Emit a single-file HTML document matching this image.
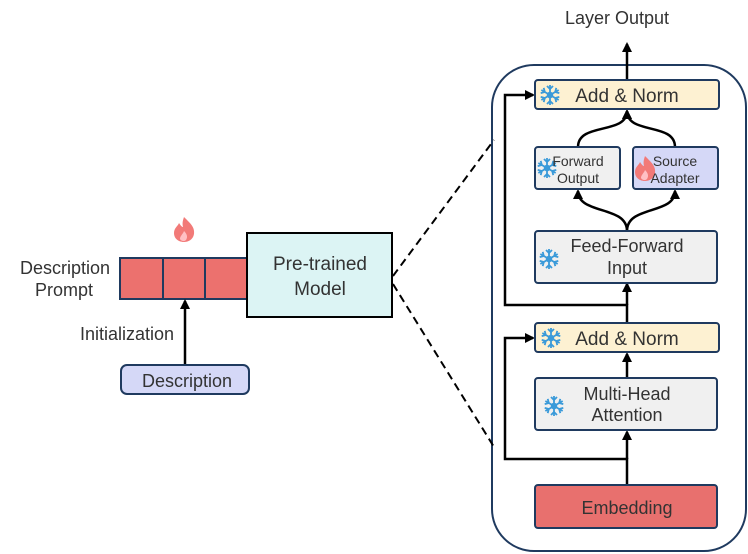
<!DOCTYPE html>
<html><head><meta charset="utf-8"><style>
html,body{margin:0;padding:0;background:#fff;}
svg{display:block;}
text{font-family:"Liberation Sans",sans-serif;fill:#333;}
</style></head><body>
<svg width="748" height="554" viewBox="0 0 748 554" xmlns="http://www.w3.org/2000/svg">
<defs>
<marker id="ah" markerWidth="10" markerHeight="10" refX="8" refY="5" orient="auto" markerUnits="userSpaceOnUse">
<path d="M0,0 L10,5 L0,10 z" fill="#000"/></marker>
<g id="br" stroke="#3a9ad9" stroke-width="1.8" fill="none"><line x1="0" y1="-10" x2="0" y2="10"/><polyline points="-3,-9 0,-6 3,-9"/><polyline points="-3,9 0,6 3,9"/></g>
<g id="snow">
<use href="#br"/><use href="#br" transform="rotate(60)"/><use href="#br" transform="rotate(-60)"/>
<circle r="2.5" fill="none" stroke="#3a9ad9" stroke-width="1.6"/>
</g>
<g id="fire"><path d="M0,-12 C6,-6 11,-2 10,5 C9,11 4,13 0,13 C-5,13 -10,10 -10,4 C-10,-1 -6,-3 -5,-6 C-3,-3 -2,-2 -1,-2 C-2,-6 -1,-9 0,-12z" fill="#f27a78"/><path d="M0,2 C3,5 4,8 2,11 C0,13 -3,12 -4,10 C-4,7 -1,5 0,2z" fill="#ffc0c4"/></g>
</defs>

<rect x="492" y="65" width="254" height="486" rx="42" fill="#fff" stroke="#1f3a5f" stroke-width="2"/>

<text x="617" y="24" font-size="18" text-anchor="middle">Layer Output</text>
<line x1="627" y1="80" x2="627" y2="44" stroke="#000" stroke-width="2.5" marker-end="url(#ah)"/>

<polyline points="627,485 627,459 505,459 505,338 533,338" fill="none" stroke="#000" stroke-width="2.5" marker-end="url(#ah)"/>
<line x1="627" y1="459" x2="627" y2="432" stroke="#000" stroke-width="2.5" marker-end="url(#ah)"/>
<line x1="627" y1="378" x2="627" y2="354" stroke="#000" stroke-width="2.5" marker-end="url(#ah)"/>
<polyline points="627,323 627,305 505,305 505,95 533,95" fill="none" stroke="#000" stroke-width="2.5" marker-end="url(#ah)"/>
<line x1="627" y1="305" x2="627" y2="284" stroke="#000" stroke-width="2.5" marker-end="url(#ah)"/>
<path d="M627,231 C627,205 578,215 578,191" fill="none" stroke="#000" stroke-width="2.5" marker-end="url(#ah)"/>
<path d="M627,231 C627,205 675,215 675,191" fill="none" stroke="#000" stroke-width="2.5" marker-end="url(#ah)"/>
<path d="M578,147 C578,122 627,135 627,111" fill="none" stroke="#000" stroke-width="2.5" marker-end="url(#ah)"/>
<path d="M675,147 C675,122 627,135 627,111" fill="none" stroke="#000" stroke-width="2.5" marker-end="url(#ah)"/>

<rect x="535" y="80" width="184" height="29" rx="3" fill="#fdf1d2" stroke="#1f3a5f" stroke-width="2"/>
<use href="#snow" x="550" y="95"/>
<text x="627" y="102" font-size="19" text-anchor="middle">Add &amp; Norm</text>

<rect x="535" y="147" width="85" height="42" rx="3" fill="#f0f0f0" stroke="#1f3a5f" stroke-width="2"/>
<use href="#snow" x="547" y="168"/>
<text x="578" y="166" font-size="14" text-anchor="middle">Forward</text>
<text x="578" y="183" font-size="14" text-anchor="middle">Output</text>

<rect x="633" y="147" width="85" height="42" rx="3" fill="#d5d8f7" stroke="#1f3a5f" stroke-width="2"/>
<use href="#fire" x="645" y="168"/>
<text x="675" y="166" font-size="14" text-anchor="middle">Source</text>
<text x="675" y="183" font-size="14" text-anchor="middle">Adapter</text>

<rect x="535" y="231" width="182" height="52" rx="3" fill="#f0f0f0" stroke="#1f3a5f" stroke-width="2"/>
<use href="#snow" x="549" y="259"/>
<text x="627" y="252" font-size="18" text-anchor="middle">Feed-Forward</text>
<text x="627" y="274" font-size="18" text-anchor="middle">Input</text>

<rect x="535" y="323" width="184" height="29" rx="3" fill="#fdf1d2" stroke="#1f3a5f" stroke-width="2"/>
<use href="#snow" x="551" y="338"/>
<text x="627" y="345" font-size="19" text-anchor="middle">Add &amp; Norm</text>

<rect x="535" y="378" width="182" height="52" rx="3" fill="#f0f0f0" stroke="#1f3a5f" stroke-width="2"/>
<use href="#snow" x="554" y="406"/>
<text x="627" y="400" font-size="18" text-anchor="middle">Multi-Head</text>
<text x="627" y="421" font-size="18" text-anchor="middle">Attention</text>

<rect x="535" y="485" width="182" height="43" rx="3" fill="#e8706e" stroke="#1f3a5f" stroke-width="2"/>
<text x="627" y="514" font-size="18" text-anchor="middle">Embedding</text>

<line x1="393" y1="276" x2="494" y2="140" stroke="#000" stroke-width="2" stroke-dasharray="8,5"/>
<line x1="393" y1="284" x2="494" y2="447" stroke="#000" stroke-width="2" stroke-dasharray="8,5"/>

<text x="65" y="274" font-size="18" text-anchor="middle">Description</text>
<text x="64" y="296" font-size="18" text-anchor="middle">Prompt</text>
<rect x="120" y="258" width="128" height="41" fill="#ec716e" stroke="#1f3a5f" stroke-width="2"/>
<line x1="163" y1="258" x2="163" y2="299" stroke="#1f3a5f" stroke-width="2"/>
<line x1="205" y1="258" x2="205" y2="299" stroke="#1f3a5f" stroke-width="2"/>
<use href="#fire" x="184" y="229"/>
<rect x="247" y="233" width="145" height="84" fill="#dcf4f4" stroke="#000" stroke-width="2"/>
<text x="320" y="270" font-size="19" text-anchor="middle">Pre-trained</text>
<text x="320" y="295" font-size="19" text-anchor="middle">Model</text>
<line x1="185" y1="365" x2="185" y2="301" stroke="#000" stroke-width="2.5" marker-end="url(#ah)"/>
<text x="127" y="340" font-size="18" text-anchor="middle">Initialization</text>
<rect x="121" y="365" width="128" height="29" rx="6" fill="#d5d8f7" stroke="#1f3a5f" stroke-width="2"/>
<text x="187" y="387" font-size="18" text-anchor="middle">Description</text>
</svg>
</body></html>
